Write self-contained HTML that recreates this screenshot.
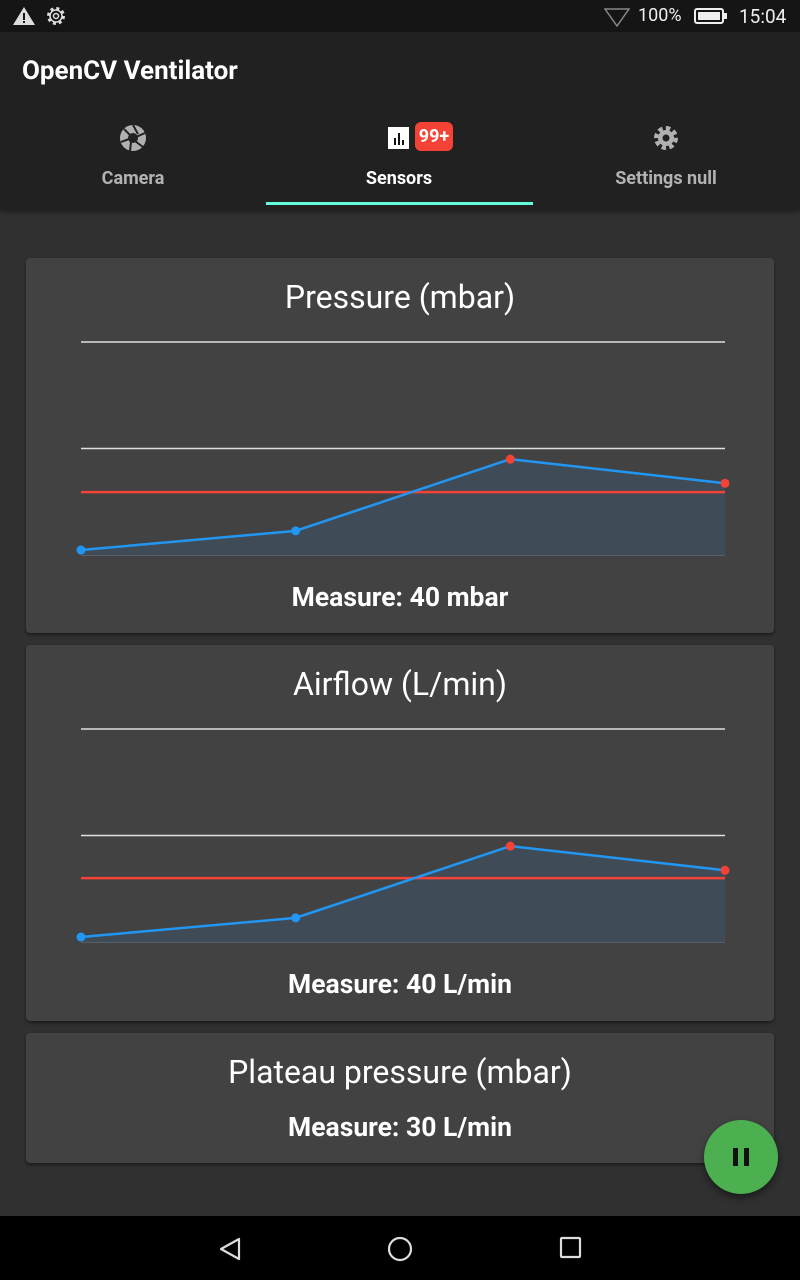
<!DOCTYPE html>
<html><head><meta charset="utf-8">
<style>
*{margin:0;padding:0;box-sizing:border-box}
body{width:800px;height:1280px;background:#303030;font-family:"Roboto","Liberation Sans",sans-serif;color:#fff;position:relative;overflow:hidden}
.abs{position:absolute}
#status{left:0;top:0;width:800px;height:32px;background:#151515}
#appbar{left:0;top:32px;width:800px;height:178px;background:#212121;box-shadow:0 2px 4px rgba(0,0,0,.4)}
.tab{position:absolute;top:0;width:266px;height:178px;text-align:center}
.tablabel{position:absolute;top:136px;width:100%;font-size:18px;font-weight:bold}
.card{position:absolute;left:26px;width:748px;background:#424242;border-radius:4px;box-shadow:0 2px 3px rgba(0,0,0,.45)}
.ctitle{position:absolute;width:100%;text-align:center;font-size:32px;top:20px}
.meas{position:absolute;width:100%;text-align:center;font-size:26.5px;font-weight:bold}
#nav{left:0;top:1216px;width:800px;height:64px;background:#000}
</style></head><body>
<div id="status" class="abs">
  <svg class="abs" style="left:12px;top:6px" width="24" height="20"><polygon points="12,1 23,19 1,19" fill="#ddd"/><rect x="11" y="7" width="2" height="7" fill="#151515"/><rect x="11" y="15" width="2" height="2" fill="#151515"/></svg>
  <svg class="abs" style="left:45px;top:5px" width="22" height="22"><circle cx="11" cy="11" r="7.5" fill="none" stroke="#ddd" stroke-width="3" stroke-dasharray="3 2.9"/><circle cx="11" cy="11" r="6" fill="none" stroke="#ddd" stroke-width="1.5"/><circle cx="11" cy="11" r="2.5" fill="none" stroke="#ddd" stroke-width="1.5"/></svg>
  <svg class="abs" style="left:604px;top:7px" width="26" height="20"><polygon points="1,2 25,2 13,19" fill="none" stroke="#888" stroke-width="1.5"/></svg>
  <div class="abs" style="left:638px;top:5px;font-size:18px;color:#eee">100%</div>
  <svg class="abs" style="left:694px;top:8px" width="34" height="17"><rect x="1" y="1" width="28" height="14" rx="2" fill="none" stroke="#eee" stroke-width="2"/><rect x="4" y="4" width="22" height="8" fill="#eee"/><rect x="30" y="5" width="3" height="6" fill="#eee"/></svg>
  <div class="abs" style="left:739px;top:5px;font-size:19px;color:#eee">15:04</div>
</div>
<div id="appbar" class="abs">
  <div class="abs" style="left:22px;top:24px;font-size:26px;font-weight:bold">OpenCV Ventilator</div>
  <div class="tab" style="left:0">
    <svg class="abs" style="left:119px;top:92px" width="28" height="28"><circle cx="14" cy="14" r="13" fill="#b0b0b0"/><circle cx="14" cy="14" r="5" fill="#212121"/><g stroke="#212121" stroke-width="2"><line x1="14" y1="1" x2="19" y2="10"/><line x1="26" y1="9" x2="17" y2="13"/><line x1="24" y1="23" x2="16" y2="17"/><line x1="11" y1="27" x2="12" y2="18"/><line x1="2" y1="18" x2="10" y2="15"/><line x1="5" y1="5" x2="11" y2="11"/></g></svg>
    <div class="tablabel" style="color:#b3b3b3">Camera</div>
  </div>
  <div class="tab" style="left:266px">
    <svg class="abs" style="left:121px;top:94px" width="24" height="24"><rect x="1" y="1" width="21" height="22" fill="#fff"/><rect x="7" y="12" width="2" height="7" fill="#111"/><rect x="11" y="7" width="2" height="12" fill="#111"/><rect x="15" y="14" width="2" height="5" fill="#111"/></svg>
    <div class="abs" style="left:149px;top:90px;width:38px;height:29px;background:#f44336;border-radius:6px;font-size:18px;font-weight:bold;line-height:29px;text-align:center">99+</div>
    <div class="tablabel" style="color:#fff">Sensors</div>
    <div class="abs" style="left:0;top:170px;width:267px;height:3px;background:#64ffda"></div>
  </div>
  <div class="tab" style="left:533px">
    <svg class="abs" style="left:119px;top:92px" width="28" height="28"><circle cx="14" cy="14" r="9" fill="none" stroke="#b0b0b0" stroke-width="6" stroke-dasharray="4 3"/><circle cx="14" cy="14" r="8" fill="#b0b0b0"/><circle cx="14" cy="14" r="3.5" fill="#212121"/></svg>
    <div class="tablabel" style="color:#b3b3b3">Settings null</div>
  </div>
</div>

<div class="card" style="top:258px;height:375px">
  <div class="ctitle">Pressure (mbar)</div>
  <svg id="chart1" class="abs" style="left:0;top:0" width="748" height="375"></svg>
  <div class="meas" style="top:324px">Measure: 40 mbar</div>
</div>
<div class="card" style="top:645px;height:376px">
  <div class="ctitle">Airflow (L/min)</div>
  <svg id="chart2" class="abs" style="left:0;top:0" width="748" height="376"></svg>
  <div class="meas" style="top:324px">Measure: 40 L/min</div>
</div>
<div class="card" style="top:1033px;height:130px">
  <div class="ctitle" style="top:20px">Plateau pressure (mbar)</div>
  <div class="meas" style="top:79px">Measure: 30 L/min</div>
</div>

<div class="abs" style="left:704px;top:1120px;width:74px;height:74px;border-radius:50%;background:#4caf50;box-shadow:0 4px 8px rgba(0,0,0,.45)">
  <div class="abs" style="left:29px;top:28px;width:5px;height:18px;background:#111"></div>
  <div class="abs" style="left:40px;top:28px;width:5px;height:18px;background:#111"></div>
</div>

<div id="nav" class="abs">
  <svg class="abs" style="left:218px;top:20px" width="26" height="26"><polygon points="3,13 21,3 21,23" fill="none" stroke="#ddd" stroke-width="2.2" stroke-linejoin="round"/></svg>
  <svg class="abs" style="left:386px;top:19px" width="28" height="28"><circle cx="14" cy="14" r="11" fill="none" stroke="#ddd" stroke-width="2.2"/></svg>
  <svg class="abs" style="left:559px;top:19px" width="24" height="24"><rect x="2" y="3" width="19" height="19" rx="1" fill="none" stroke="#ddd" stroke-width="2.2"/></svg>
</div>

<script>
const pressureValues=[1.4,6.8,27.0,20.2];
const pressureThreshold=17.7;
const airflowValues=[1.4,6.8,27.0,20.2];
const airflowThreshold=18.0;
const categories=[0,1,2,3];
const gridValues=[0,30,60];
const yMax=60;

function drawChart(id,values,threshold,plotTop,plotBottom){
  const svg=document.getElementById(id);
  const NS="http://www.w3.org/2000/svg";
  const x0=55,x1=699;
  const xs=i=>x0+(x1-x0)*i/(categories.length-1);
  const ys=v=>plotBottom-(plotBottom-plotTop)*v/yMax;
  function mk(t,a){const e=document.createElementNS(NS,t);for(const k in a)e.setAttribute(k,a[k]);svg.appendChild(e);return e;}
  gridValues.forEach(g=>{
    const l=mk('line',{x1:x0,x2:x1,y1:ys(g),y2:ys(g),stroke:g===0?'#5a5f66':'#e0e0e0','stroke-width':g===0?2:1.5});
    
    
  });
  let d='M'+xs(0)+','+ys(0);
  values.forEach((v,i)=>{d+=' L'+xs(i)+','+ys(v);});
  d+=' L'+xs(values.length-1)+','+ys(0)+' Z';
  const area=mk('path',{d:d,fill:'#3f4b56'});
  
  
  const th=mk('line',{x1:x0,x2:x1,y1:ys(threshold),y2:ys(threshold),stroke:'#f44336','stroke-width':2.5});
  
  
  const line=mk('polyline',{points:values.map((v,i)=>xs(i)+','+ys(v)).join(' '),fill:'none',stroke:'#2196f3','stroke-width':2.5});
  
  
  values.forEach((v,i)=>{
    const c=mk('circle',{cx:xs(i),cy:ys(v),r:4.5,fill:v>threshold?'#f44336':'#2196f3'});
    
    
  });
}
drawChart('chart1',pressureValues,pressureThreshold,84,297);
drawChart('chart2',airflowValues,airflowThreshold,84,297);
</script>
</body></html>
